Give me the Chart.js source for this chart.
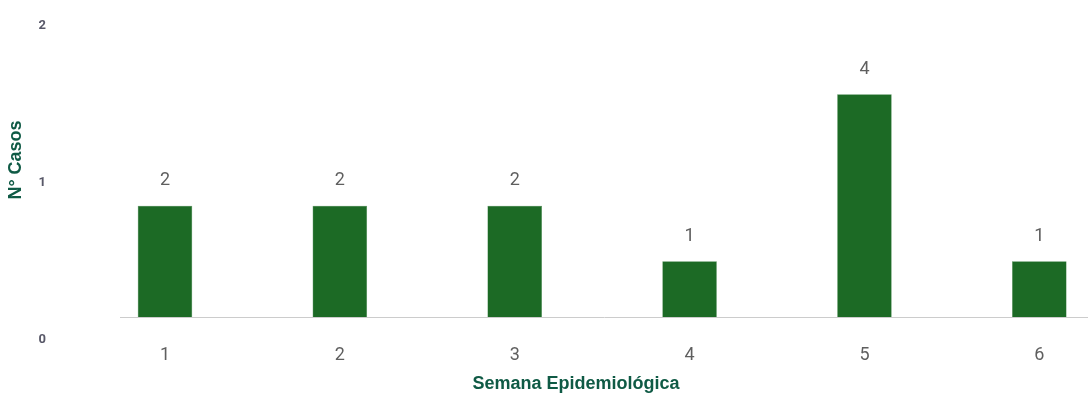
<!DOCTYPE html>
<html>
<head>
<meta charset="utf-8">
<script src="https://cdn.jsdelivr.net/npm/chart.js@4"></script>
<style>
  html, body { margin: 0; padding: 0; background: #ffffff; }
  #wrap { width: 1088px; height: 406px; position: relative; }
</style>
</head>
<body>
<div id="wrap"><canvas id="barChart"></canvas></div>
<script>
// Semanas epidemiológicas y número de casos
const semanas = [1, 2, 3, 4, 5, 6];
const casos = [2, 2, 2, 1, 4, 1];
// Etiquetas del eje vertical tal como aparecen en la imagen
const yTickLabels = [0, 1, 2];

const TITLE_COLOR = '#0f5a45';
const TICK_COLOR = '#5f5f5f';
const BAR_COLOR = '#1c6a25';

// Plugin: valor encima de cada barra
const valueLabels = {
    id: 'valueLabels',
    afterDatasetsDraw(chart) {
        const { ctx } = chart;
        ctx.save();
        ctx.font = '18px Roboto, "Liberation Sans", Arial, sans-serif';
        ctx.fillStyle = TICK_COLOR;
        ctx.textAlign = 'center';
        ctx.textBaseline = 'middle';
        chart.getDatasetMeta(0).data.forEach((bar, i) => {
            ctx.fillText(String(casos[i]), bar.x, bar.y - 25);
        });
        ctx.restore();
    }
};

// Plugin: título del eje X (desplazado como en el original)
const xTitle = {
    id: 'xTitle',
    afterDraw(chart) {
        const { ctx } = chart;
        ctx.save();
        ctx.font = 'bold 18px "Liberation Sans", Arial, sans-serif';
        ctx.fillStyle = TITLE_COLOR;
        ctx.textAlign = 'center';
        ctx.textBaseline = 'middle';
        ctx.fillText('Semana Epidemiológica', 576, 384);
        ctx.restore();
    }
};

new Chart(document.getElementById('barChart'), {
    type: 'bar',
    data: {
        datasets: [{
            data: semanas.map((s, i) => ({ x: s, y: casos[i] })),
            backgroundColor: BAR_COLOR,
            borderColor: '#3f8347',
            borderWidth: 0.5,
            categoryPercentage: 0.312,
            barPercentage: 1,
            yAxisID: 'y'
        }]
    },
    options: {
        responsive: true,
        maintainAspectRatio: false,
        animation: false,
        layout: { padding: { left: 0, right: 0, top: 3, bottom: 0 } },
        plugins: { legend: { display: false }, tooltip: { enabled: false } },
        scales: {
            x: {
                type: 'linear',
                offset: false,
                min: 0.7427,
                max: 6.2785,
                grid: { display: false },
                border: { display: true, color: '#cccccc', width: 1 },
                afterBuildTicks: (scale) => { scale.ticks = semanas.map(v => ({ value: v })); },
                afterFit: (scale) => { scale.height = 89; },
                ticks: {
                    color: TICK_COLOR,
                    padding: 20,
                    font: { size: 18, family: 'Roboto, "Liberation Sans", Arial, sans-serif' },
                    callback: (v) => String(v)
                }
            },
            y: {
                display: false,
                min: 0,
                max: 5.64
            },
            yTicks: {
                position: 'left',
                min: 0,
                max: 2,
                grid: { display: false },
                border: { display: false },
                afterBuildTicks: (scale) => { scale.ticks = yTickLabels.map(v => ({ value: v })); },
                afterFit: (scale) => {
                    scale.width = 120;
                    scale.paddingTop = 0;
                    scale.paddingBottom = 0;
                },
                title: {
                    display: true,
                    text: 'N° Casos',
                    color: TITLE_COLOR,
                    padding: { top: 5, bottom: 0 },
                    font: { size: 18, weight: 'bold', family: '"Liberation Sans", Arial, sans-serif' }
                },
                ticks: {
                    color: '#585868',
                    padding: 66,
                    labelOffset: 23,
                    font: { size: 13, weight: 'bold', family: 'Roboto, "Liberation Sans", Arial, sans-serif' }
                }
            }
        }
    },
    plugins: [valueLabels, xTitle]
});
</script>
</body>
</html>
